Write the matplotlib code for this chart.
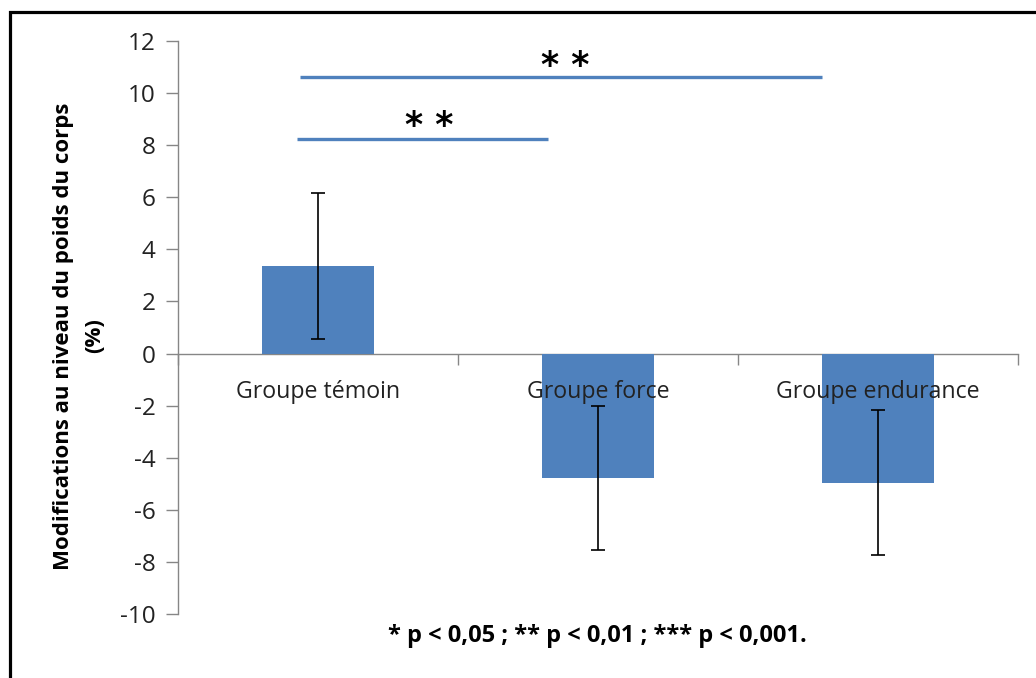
import matplotlib
matplotlib.use("Agg")
import matplotlib.pyplot as plt
from matplotlib.patches import Rectangle

plt.rcParams['font.family'] = ['Open Sans', 'DejaVu Sans']

categories = ["Groupe témoin", "Groupe force", "Groupe endurance"]
values = [3.37, -4.77, -4.96]
errors = [2.8, 2.77, 2.78]
yticks = [-10, -8, -6, -4, -2, 0, 2, 4, 6, 8, 10, 12]
# significance brackets: (start category, end category, y level, label)
sig_lines = [(0, 1, 8.25, "* *"), (0, 2, 10.6, "* *")]
ylabel = "Modifications au niveau du poids du corps\n(%)"
footnote = "* p < 0,05 ; ** p < 0,01 ; *** p < 0,001."

W, H = 1036, 678
fig = plt.figure(figsize=(W / 100, H / 100), dpi=100)
ax = fig.add_axes([178 / W, 1 - 614 / H, (1018 - 178) / W, (614 - 41) / H])
ax.set_axisbelow(False)

blue = "#4F81BD"
grey = "#868686"
x = list(range(len(categories)))
ax.bar(x, values, width=0.4, color=blue, zorder=2)
ax.errorbar(x, values, yerr=errors, fmt="none", ecolor="black", elinewidth=1.2,
            capsize=5, capthick=1.2, zorder=3)

ax.set_xlim(-0.5, len(categories) - 0.5)
ax.set_ylim(-10, 12)
ax.set_yticks(yticks)
ax.set_yticklabels([str(t) for t in yticks])

for s in ["top", "right"]:
    ax.spines[s].set_visible(False)
ax.spines["left"].set_color(grey)
ax.spines["left"].set_linewidth(1.0)
ax.spines["bottom"].set_position(("data", 0))
ax.spines["bottom"].set_color(grey)
ax.spines["bottom"].set_linewidth(1.0)
ax.spines["bottom"].set_zorder(1)

ax.tick_params(axis="y", direction="out", length=9, width=1, color=grey,
               labelsize=17.5, labelcolor="#222222", pad=7)
ax.set_xticks(x)
ax.set_xticklabels(categories)
ax.tick_params(axis="x", which="major", length=0, pad=19, labelsize=16.7, labelcolor="#222222")
ax.set_xticks([i - 0.5 for i in range(len(categories) + 1)], minor=True)
ax.tick_params(axis="x", which="minor", direction="out", length=8, width=1, color=grey)

ends = [(-0.075, 0.82), (-0.064, 1.8)]
for (a, b, yv, lab), (x0, x1) in zip(sig_lines, ends):
    ax.plot([a + x0, a + x1], [yv, yv], color=blue,
            linewidth=2.4, solid_capstyle="butt", zorder=2)
for (a, b, yv, lab), (xc, yt) in zip(sig_lines, [(0.397, 8.75), (0.883, 11.05)]):
    ax.text(xc, yt, lab, ha="center", va="center", fontsize=25, color="black",
            family="DejaVu Sans", fontweight="bold")

fig.text(79 / W, 1 - 336 / H, ylabel, rotation=90, ha="center", va="center",
         fontsize=16, fontweight="bold", linespacing=1.6)
fig.text(597 / W, 1 - 636 / H, footnote, ha="center", va="center",
         fontsize=17, fontweight="bold")

fig.patches.append(Rectangle((9.5 / W, -0.1), 1.2, 1 - 11.5 / H + 0.1,
                             transform=fig.transFigure, fill=False,
                             edgecolor="black", linewidth=2.3))

fig.savefig("out.png", dpi=100)
